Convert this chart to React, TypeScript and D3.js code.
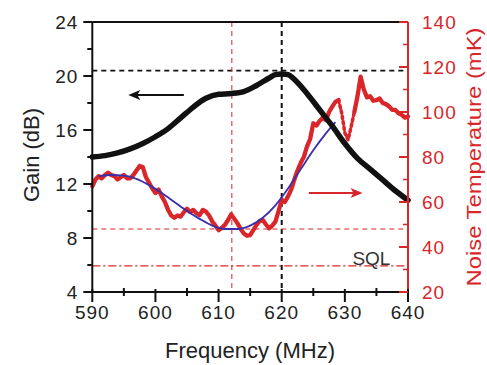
import React from "react";
import * as d3 from "d3";

const gainFreq = [590, 592, 594, 596, 598, 600, 602, 604, 606, 608, 610, 612, 614, 616, 618, 619, 620, 621, 622, 624, 626, 628, 630, 632, 634, 636, 638, 640];
const gainVals = [14.0, 14.1, 14.3, 14.6, 15.0, 15.5, 16.1, 16.9, 17.7, 18.35, 18.65, 18.7, 18.85, 19.3, 19.85, 20.1, 20.15, 20.1, 19.75, 18.7, 17.5, 16.3, 15.0, 13.9, 13.1, 12.3, 11.5, 10.8];

const fitFreq = [591, 593, 595, 597, 599, 601, 603, 605, 607, 609, 611, 613, 615, 617, 619, 621, 623, 625, 627, 628.5];
const fitVals = [71.5, 72, 71.7, 70.3, 67.5, 64, 60, 56, 52.5, 49.5, 48, 48, 49.5, 53, 58.5, 66, 74.5, 83, 90.5, 95.5];

const noiseFreq = [590, 590.5, 591, 591.5, 592, 592.5, 593, 593.5, 594, 594.5, 595, 595.5, 596, 596.5, 597, 597.5, 598, 598.5, 599, 599.5, 600, 600.5, 601, 601.5, 602, 602.5, 603, 603.5, 604, 604.5, 605, 605.5, 606, 606.5, 607, 607.5, 608, 608.5, 609, 609.5, 610, 610.5, 611, 611.5, 612, 612.5, 613, 613.5, 614, 614.5, 615, 615.5, 616, 616.5, 617, 617.5, 618, 618.5, 619, 619.5, 620, 620.5, 621, 621.5, 622, 622.5, 623, 623.5, 624, 624.5, 625, 625.5, 626, 626.5, 627, 627.5, 628, 628.5, 629, 629.5, 630, 630.5, 631, 631.5, 632, 632.5, 633, 633.5, 634, 634.5, 635, 635.5, 636, 636.5, 637, 637.5, 638, 638.5, 639, 639.5, 640];
const noiseVals = [67, 70, 71.5, 70.5, 72, 73, 72, 71.5, 70, 71, 72, 70.5, 70.5, 72, 74, 76, 75.5, 71, 68.5, 66, 64, 65.5, 62.5, 60, 56.5, 54, 53, 54, 53.5, 55.5, 57, 55.5, 56.5, 55, 54.2, 56.5, 55.7, 54, 51.3, 49.5, 47.5, 48.5, 49.8, 52, 54.5, 52.5, 50.5, 48, 46, 45, 45.3, 47.5, 49.8, 51.5, 52, 50, 48.3, 49.5, 51.3, 56, 61, 60, 62.5, 65.5, 70, 74, 77.3, 80, 84.6, 88, 95, 94, 96, 97.5, 96.4, 100, 102.4, 104.5, 105.3, 99.5, 90.7, 87.6, 93.5, 100, 107, 115.7, 110, 106.5, 107, 105, 105.3, 106, 104, 103.5, 102.5, 101, 100.9, 99.5, 98.7, 97.5, 98];

const dottedFrom = 629;
const dottedTo = 631.5;

const xTicks = [590, 600, 610, 620, 630, 640];
const gainTicks = [4, 8, 12, 16, 20, 24];
const noiseTicks = [20, 40, 60, 80, 100, 120, 140];

const gainRef = 20.4;
const noiseRef = 48;
const sqlLevel = 31.6;
const minFreq = 612.1;
const peakFreq = 620;

const RED = "#d8262b";
const FONT = "Liberation Sans, Arial, sans-serif";

export default function App() {
  const x = d3.scaleLinear().domain([590, 640]).range([92.3, 408]);
  const yG = d3.scaleLinear().domain([4, 24]).range([292, 22]);
  const yN = d3.scaleLinear().domain([20, 140]).range([292, 22]);

  const gainLine = d3.line<number>().x((_, i) => x(gainFreq[i])).y((d) => yG(d)).curve(d3.curveMonotoneX);
  const fitLine = d3.line<number>().x((_, i) => x(fitFreq[i])).y((d) => yN(d)).curve(d3.curveMonotoneX);
  const noisePts = noiseFreq.map((f, i) => [f, noiseVals[i]] as [number, number]);
  const noiseLine = d3.line<[number, number]>().x((d) => x(d[0])).y((d) => yN(d[1]));
  const seg1 = noisePts.filter((d) => d[0] <= dottedFrom);
  const seg2 = noisePts.filter((d) => d[0] >= dottedFrom && d[0] <= dottedTo);
  const seg3 = noisePts.filter((d) => d[0] >= dottedTo);

  const [x0, x1] = x.range();
  const [yb, yt] = yG.range();

  const minorX = d3.range(590, 641, 5).filter((v) => v % 10 !== 0);
  const minorG = d3.range(6, 24, 4);
  const minorN = d3.range(30, 140, 20);

  const arrowBY = yG(18.6);
  const arrowRY = yN(64);

  return (
    <svg width={487} height={365} style={{ position: "absolute", left: 0, top: 0, background: "#fff" }} fontFamily={FONT}>
      {/* reference lines */}
      <line x1={x0} x2={x1} y1={yG(gainRef)} y2={yG(gainRef)} stroke="#111" strokeWidth={1.6} strokeDasharray="5,4" />
      <line x1={x(peakFreq)} x2={x(peakFreq)} y1={yt} y2={yb} stroke="#111" strokeWidth={2} strokeDasharray="5,4" />
      <line x1={x(minFreq)} x2={x(minFreq)} y1={yt} y2={yb} stroke={RED} strokeWidth={1} strokeDasharray="5,4" />
      <line x1={x0} x2={x1} y1={yN(noiseRef)} y2={yN(noiseRef)} stroke={RED} strokeWidth={1.1} strokeDasharray="5,4" />
      <line x1={x0} x2={x1} y1={yN(sqlLevel)} y2={yN(sqlLevel)} stroke={RED} strokeWidth={1.1} strokeDasharray="8,3,2,3" />

      {/* data */}
      <path d={noiseLine(seg1) || ""} fill="none" stroke={RED} strokeWidth={4.3} strokeLinejoin="round" strokeLinecap="round" />
      <path d={noiseLine(seg2) || ""} fill="none" stroke={RED} strokeWidth={3.5} strokeDasharray="2.5,3" strokeLinecap="round" />
      <path d={noiseLine(seg3) || ""} fill="none" stroke={RED} strokeWidth={4.3} strokeLinejoin="round" strokeLinecap="round" />
      <path d={fitLine(fitVals) || ""} fill="none" stroke="#3a2fa8" strokeWidth={1.8} />
      <path d={gainLine(gainVals) || ""} fill="none" stroke="#111" strokeWidth={5.5} strokeLinecap="round" />

      {/* arrows */}
      <line x1={x(604.5)} x2={x(597)} y1={arrowBY} y2={arrowBY} stroke="#111" strokeWidth={2} />
      <path d={`M${x(595.7)},${arrowBY} l12,-5 l-3,5 l3,5 z`} fill="#111" />
      <line x1={x(624.3)} x2={x(631.5)} y1={arrowRY} y2={arrowRY} stroke={RED} strokeWidth={2} />
      <path d={`M${x(632.8)},${arrowRY} l-12,-5 l3,5 l-3,5 z`} fill={RED} />

      <text x={x(631.2)} y={yN(sqlLevel) - 1} fontSize={19} fill="#333">SQL</text>

      {/* frame */}
      <line x1={x0} x2={x1} y1={yt} y2={yt} stroke="#111" strokeWidth={2} />
      <line x1={x0} x2={x1} y1={yb} y2={yb} stroke="#111" strokeWidth={2} />
      <line x1={x0} x2={x0} y1={yt} y2={yb} stroke="#111" strokeWidth={2} />
      <line x1={x1} x2={x1} y1={yt} y2={yb + 10} stroke={RED} strokeWidth={2} />

      {/* bottom axis */}
      {xTicks.map((t) => (
        <g key={"xt" + t}>
          <line x1={x(t)} x2={x(t)} y1={yb - 3} y2={yb + 10} stroke="#111" strokeWidth={2} />
          <text x={x(t)} y={yb + 27} fontSize={19} textAnchor="middle" fill="#222" letterSpacing={1}>{t}</text>
        </g>
      ))}
      {minorX.map((t) => (
        <line key={"xm" + t} x1={x(t)} x2={x(t)} y1={yb - 4} y2={yb + 4} stroke="#111" strokeWidth={2} />
      ))}

      {/* left axis */}
      {gainTicks.map((t) => (
        <g key={"gt" + t}>
          <line x1={x0 - 9} x2={x0} y1={yG(t)} y2={yG(t)} stroke="#111" strokeWidth={2} />
          <text x={x0 - 14} y={yG(t) + 7} fontSize={19} textAnchor="end" fill="#222" letterSpacing={1}>{t}</text>
        </g>
      ))}
      {minorG.map((t) => (
        <line key={"gm" + t} x1={x0 - 5} x2={x0} y1={yG(t)} y2={yG(t)} stroke="#111" strokeWidth={2} />
      ))}

      {/* right axis */}
      {noiseTicks.map((t) => (
        <g key={"nt" + t}>
          <line x1={x1 - 9} x2={x1} y1={yN(t)} y2={yN(t)} stroke={RED} strokeWidth={2} />
          <text x={x1 + 14} y={yN(t) + 7} fontSize={19} textAnchor="start" fill={RED} letterSpacing={1}>{t}</text>
        </g>
      ))}
      {minorN.map((t) => (
        <line key={"nm" + t} x1={x1 - 5} x2={x1} y1={yN(t)} y2={yN(t)} stroke={RED} strokeWidth={1.5} />
      ))}

      {/* titles */}
      <text x={250} y={358} fontSize={22} textAnchor="middle" fill="#222">Frequency (MHz)</text>
      <text transform={`translate(39,155) rotate(-90)`} fontSize={22} textAnchor="middle" fill="#222">Gain (dB)</text>
      <text transform={`translate(481,157) rotate(-90)`} fontSize={21} textAnchor="middle" fill={RED} textLength={259} lengthAdjust="spacingAndGlyphs">Noise Temperature (mK)</text>
    </svg>
  );
}
